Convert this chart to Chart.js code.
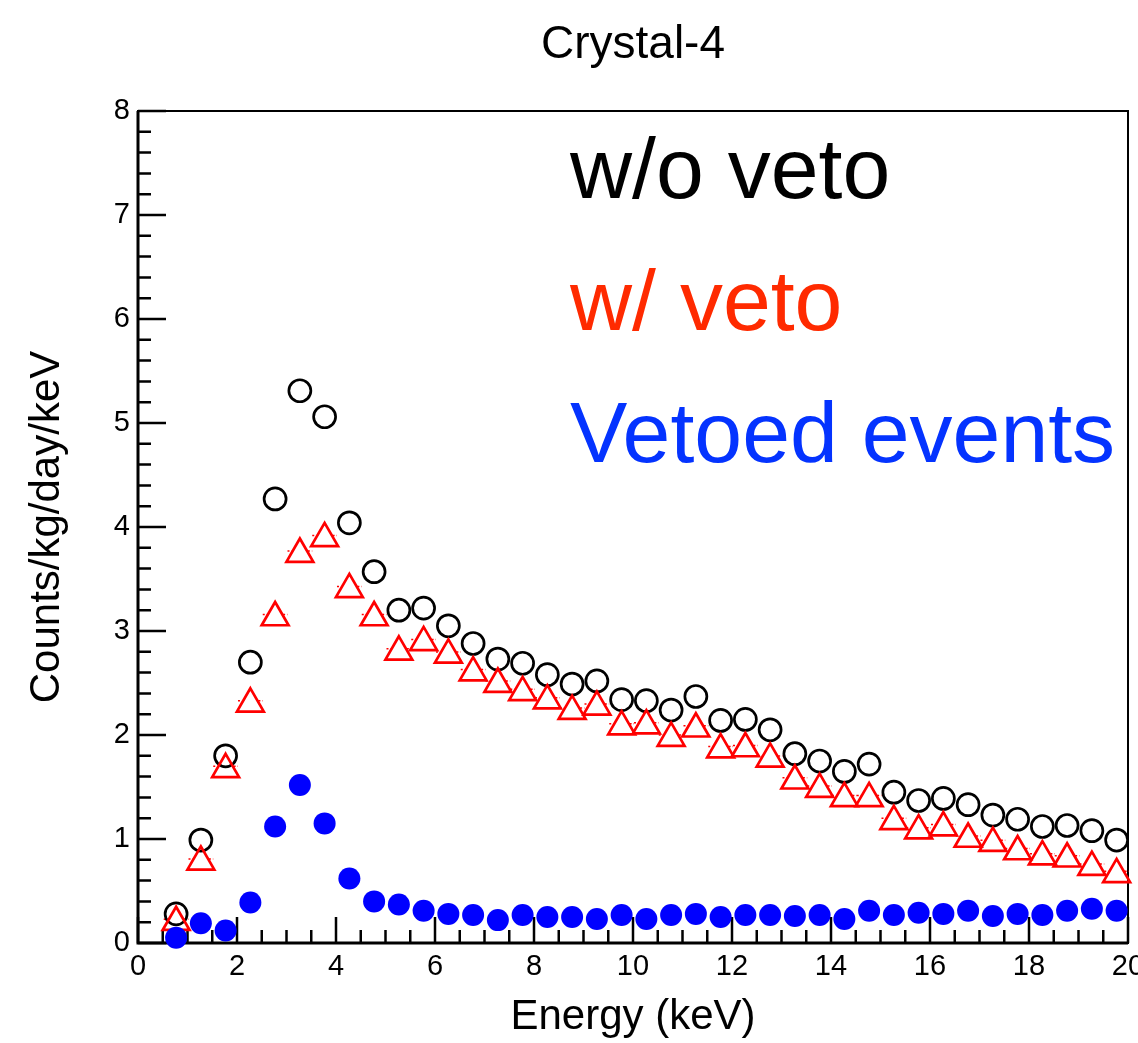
<!DOCTYPE html>
<html>
<head>
<meta charset="utf-8">
<script src="https://cdn.jsdelivr.net/npm/chart.js@4.4.1/dist/chart.umd.min.js"></script>
<style>
  html, body { margin: 0; padding: 0; background: #fff; overflow: hidden; }
  #wrap { width: 1152px; height: 1043px; }
</style>
</head>
<body>
<div id="wrap"><canvas id="chart"></canvas></div>
<script>
// bin centres (keV)
const energy = [0.77, 1.27, 1.77, 2.27, 2.77, 3.27, 3.77, 4.27, 4.77, 5.27,
  5.77, 6.27, 6.77, 7.27, 7.77, 8.27, 8.77, 9.27, 9.77, 10.27,
  10.77, 11.27, 11.77, 12.27, 12.77, 13.27, 13.77, 14.27, 14.77, 15.27,
  15.77, 16.27, 16.77, 17.27, 17.77, 18.27, 18.77, 19.27, 19.77]

// counts/kg/day/keV
const woVeto = [0.28, 0.99, 1.80, 2.70, 4.27, 5.31, 5.06, 4.04, 3.57, 3.20,
  3.22, 3.05, 2.88, 2.73, 2.69, 2.58, 2.49, 2.52, 2.34, 2.33,
  2.24, 2.37, 2.14, 2.15, 2.05, 1.82, 1.75, 1.65, 1.72, 1.45,
  1.37, 1.39, 1.33, 1.23, 1.19, 1.12, 1.13, 1.08, 0.99]
const wVeto = [0.20, 0.78, 1.67, 2.30, 3.13, 3.74, 3.89, 3.40, 3.13, 2.80,
  2.89, 2.77, 2.60, 2.49, 2.41, 2.33, 2.23, 2.27, 2.08, 2.09,
  1.97, 2.06, 1.86, 1.87, 1.77, 1.56, 1.48, 1.39, 1.39, 1.17,
  1.08, 1.11, 1.00, 0.96, 0.88, 0.83, 0.81, 0.73, 0.66]
const vetoed = [0.05, 0.19, 0.12, 0.39, 1.12, 1.52, 1.15, 0.62, 0.40, 0.37,
  0.31, 0.28, 0.27, 0.22, 0.27, 0.25, 0.25, 0.23, 0.27, 0.23,
  0.27, 0.28, 0.25, 0.27, 0.27, 0.26, 0.27, 0.23, 0.31, 0.27,
  0.29, 0.28, 0.31, 0.26, 0.28, 0.27, 0.31, 0.33, 0.31]

const binHalfWidth = 0.25
const xTicks = [0, 2, 4, 6, 8, 10, 12, 14, 16, 18, 20]
const yTicks = [0, 1, 2, 3, 4, 5, 6, 7, 8]

const title = 'Crystal-4'
const labels = [
  { text: 'w/o veto', color: '#000000' },
  { text: 'w/ veto', color: '#ff2a00' },
  { text: 'Vetoed events', color: '#0433ff' }
]

const FONT = "'Liberation Sans', Arial, Helvetica, sans-serif"

const toPoints = (ys) => energy.map((e, i) => ({ x: e, y: ys[i] }))

// ROOT-like frame with inward ticks
const frame = {
  id: 'frame',
  beforeDatasetsDraw(chart) {
    const { ctx, chartArea: a, scales: { x, y } } = chart
    ctx.save()
    ctx.strokeStyle = '#000'
    ctx.lineWidth = 2
    ctx.strokeRect(a.left, a.top, a.right - a.left, a.bottom - a.top)
    ctx.lineWidth = 3
    ctx.beginPath()
    ctx.moveTo(a.left, a.top)
    ctx.lineTo(a.left, a.bottom)
    ctx.lineTo(a.right, a.bottom)
    ctx.stroke()

    ctx.lineWidth = 2.5
    ctx.beginPath()
    for (let k = 0; k <= 40; k++) {
      const px = x.getPixelForValue(k * 0.5)
      const len = k % 4 === 0 ? 26 : 13
      ctx.moveTo(px, a.bottom)
      ctx.lineTo(px, a.bottom - len)
    }
    for (let k = 0; k <= 40; k++) {
      const py = y.getPixelForValue(k * 0.2)
      const len = k % 5 === 0 ? 28 : 13
      ctx.moveTo(a.left, py)
      ctx.lineTo(a.left + len, py)
    }
    ctx.stroke()

    // dotted x error bars on the triangles
    ctx.strokeStyle = '#ff0000'
    ctx.lineWidth = 1.5
    ctx.setLineDash([2, 2])
    ctx.beginPath()
    energy.forEach((e, i) => {
      const py = y.getPixelForValue(wVeto[i]) - 3
      const px = x.getPixelForValue(e)
      const l = x.getPixelForValue(e - binHalfWidth)
      const r = x.getPixelForValue(e + binHalfWidth)
      ctx.moveTo(l, py); ctx.lineTo(px - 8, py)
      ctx.moveTo(px + 8, py); ctx.lineTo(r, py)
    })
    ctx.stroke()
    ctx.restore()
  }
}

const annotations = {
  id: 'annotations',
  afterDraw(chart) {
    const { ctx, chartArea: a } = chart
    ctx.save()
    // title centred over the frame
    ctx.fillStyle = '#000'
    ctx.font = `46px ${FONT}`
    ctx.textAlign = 'center'
    ctx.textBaseline = 'alphabetic'
    ctx.fillText(title, (a.left + a.right) / 2, 58)

    ctx.font = `86px ${FONT}`
    ctx.textAlign = 'left'
    const baselines = [198, 330, 462]
    labels.forEach((l, i) => {
      ctx.fillStyle = l.color
      ctx.fillText(l.text, 570, baselines[i])
    })
    ctx.restore()
  }
}

const config = {
  type: 'scatter',
  data: {
    datasets: [
      {
        label: 'w/o veto',
        data: toPoints(woVeto),
        pointStyle: 'circle',
        pointRadius: 11,
        pointBorderWidth: 2.7,
        borderColor: '#000000',
        backgroundColor: 'rgba(0,0,0,0)',
        clip: false,
        order: 3
      },
      {
        label: 'w/ veto',
        data: toPoints(wVeto),
        pointStyle: 'triangle',
        pointRadius: 15.5,
        pointBorderWidth: 2.7,
        borderColor: '#ff0000',
        backgroundColor: 'rgba(0,0,0,0)',
        clip: false,
        order: 2
      },
      {
        label: 'Vetoed events',
        data: toPoints(vetoed),
        pointStyle: 'circle',
        pointRadius: 11,
        pointBorderWidth: 0,
        borderColor: '#0000ff',
        backgroundColor: '#0000ff',
        clip: false,
        order: 1
      }
    ]
  },
  options: {
    responsive: true,
    maintainAspectRatio: false,
    animation: false,
    layout: { padding: { top: 111, right: 24, bottom: 0, left: 0 } },
    plugins: {
      legend: { display: false },
      tooltip: { enabled: false },
      title: { display: false }
    },
    scales: {
      x: {
        type: 'linear',
        min: 0,
        max: 20,
        grid: { display: false, drawTicks: false },
        border: { display: false },
        afterBuildTicks: (s) => { s.ticks = xTicks.map(v => ({ value: v })) },
        ticks: {
          color: '#000',
          font: { family: FONT, size: 29 },
          padding: 7,
          maxRotation: 0,
          autoSkip: false
        },
        title: {
          display: true,
          text: 'Energy (keV)',
          color: '#000',
          font: { family: FONT, size: 42 },
          padding: { top: 0, bottom: 0 }
        },
        afterFit: (s) => { s.height = 100; s.paddingLeft = 0; s.paddingRight = 0 }
      },
      y: {
        type: 'linear',
        min: 0,
        max: 8,
        grid: { display: false, drawTicks: false },
        border: { display: false },
        afterBuildTicks: (s) => { s.ticks = yTicks.map(v => ({ value: v })) },
        ticks: {
          color: '#000',
          font: { family: FONT, size: 29 },
          padding: 8,
          autoSkip: false
        },
        title: {
          display: true,
          text: 'Counts/kg/day/keV',
          color: '#000',
          font: { family: FONT, size: 42 },
          padding: { top: 22, bottom: 0 }
        },
        afterFit: (s) => { s.width = 138; s.paddingTop = 0; s.paddingBottom = 0 }
      }
    }
  },
  plugins: [frame, annotations]
}

new Chart(document.getElementById('chart'), config)
</script>
</body>
</html>
